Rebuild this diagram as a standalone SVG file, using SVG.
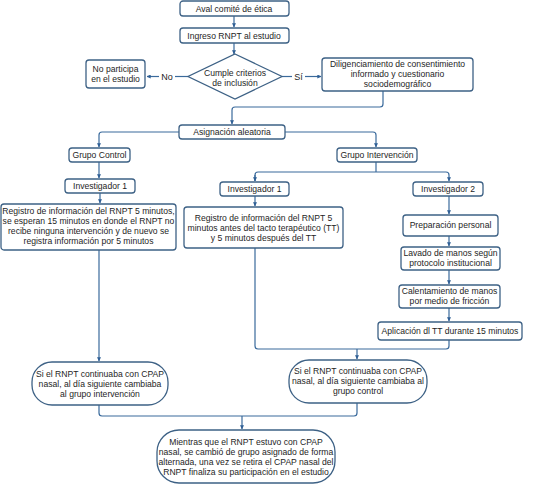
<svg xmlns="http://www.w3.org/2000/svg" width="547" height="484" viewBox="0 0 547 484">
<defs>
<style>
.box{fill:#fff;stroke:#3d6185;stroke-width:1.3}
.ln{fill:none;stroke:#3a6a9c;stroke-width:1.2}
text{font-family:"Liberation Sans",Arial,sans-serif;font-size:8.6px;fill:#1e1e1e;text-anchor:middle}
</style>
<marker id="ah" viewBox="0 0 6 6" refX="5.5" refY="3" markerWidth="4" markerHeight="4" orient="auto" markerUnits="userSpaceOnUse">
<path d="M0,0 L6,3 L0,6 z" fill="#2f5f95"/>
</marker>
</defs>
<rect width="547" height="484" fill="#fff"/>
<g id="connectors">
<path class="ln" d="M234,16 V27" marker-end="url(#ah)"/>
<path class="ln" d="M234,43 V54" marker-end="url(#ah)"/>
<path class="ln" d="M188,76.5 H175"/>
<path class="ln" d="M159,76.5 H147" marker-end="url(#ah)"/>
<path class="ln" d="M282,76.5 H292"/>
<path class="ln" d="M305,76.5 H321" marker-end="url(#ah)"/>
<path class="ln" d="M383,91 V104 Q383,107 380,107 H235 Q232,107 232,110 V124" marker-end="url(#ah)"/>
<path class="ln" d="M179,132 H102 Q99,132 99,135 V147" marker-end="url(#ah)"/>
<path class="ln" d="M285,132 H373 Q376,132 376,135 V147" marker-end="url(#ah)"/>
<path class="ln" d="M99,162 V178" marker-end="url(#ah)"/>
<path class="ln" d="M100,193 V203" marker-end="url(#ah)"/>
<path class="ln" d="M376,162 V172"/>
<path class="ln" d="M255,181 V175 Q255,172 258,172 H446 Q449,172 449,175 V181" marker-end="url(#ah)"/>
<path class="ln" d="M255,175 V181" marker-end="url(#ah)"/>
<path class="ln" d="M255,196 V206" marker-end="url(#ah)"/>
<path class="ln" d="M449,196 V214" marker-end="url(#ah)"/>
<path class="ln" d="M449,236 V246" marker-end="url(#ah)"/>
<path class="ln" d="M449,270 V284" marker-end="url(#ah)"/>
<path class="ln" d="M449,308 V321" marker-end="url(#ah)"/>
<path class="ln" d="M255,248 V346 Q255,349 258,349 H446 Q449,349 449,346 V340"/>
<path class="ln" d="M357,349 V359" marker-end="url(#ah)"/>
<path class="ln" d="M99,250 V361" marker-end="url(#ah)"/>
<path class="ln" d="M99,405 V413 Q99,416 102,416 H354 Q357,416 357,413 V403"/>
<path class="ln" d="M242,416 V429" marker-end="url(#ah)"/>
</g>
<g id="aval"><rect class="box" x="180" y="1" width="109" height="15" rx="3"/><text x="234" y="11.5">Aval comité de ética</text></g>
<g id="ingreso"><rect class="box" x="180" y="28" width="109" height="15" rx="3"/><text x="234" y="38.5">Ingreso RNPT al estudio</text></g>
<g id="criterios"><polygon class="box" points="235,54 282,76.5 235,99 188,76.5"/><text x="235" y="76">Cumple criterios</text><text x="235" y="86">de inclusión</text></g>
<g id="no-participa"><rect class="box" x="86" y="60" width="59" height="28" rx="3"/><text x="115.5" y="72">No participa</text><text x="115.5" y="82">en el estudio</text></g>
<text x="167" y="79.5" style="font-size:9px">No</text>
<text x="298.5" y="79.5" style="font-size:9px">Sí</text>
<g id="diligenciamiento"><rect class="box" x="322" y="58" width="151" height="33" rx="3"/><text x="397.5" y="67">Diligenciamiento de consentimiento</text><text x="397.5" y="77">informado y cuestionario</text><text x="397.5" y="87">sociodemográfico</text></g>
<g id="asignacion"><rect class="box" x="179" y="125" width="106" height="14" rx="3"/><text x="232" y="135">Asignación aleatoria</text></g>
<g id="grupo-control"><rect class="box" x="69" y="148" width="61" height="14" rx="3"/><text x="99.5" y="158">Grupo Control</text></g>
<g id="grupo-intervencion"><rect class="box" x="337" y="148" width="80" height="14" rx="3"/><text x="377" y="158">Grupo Intervención</text></g>
<g id="inv1-control"><rect class="box" x="65" y="179" width="70" height="14" rx="3"/><text x="100" y="189">Investigador 1</text></g>
<g id="registro-control"><rect class="box" x="1" y="204" width="175" height="46" rx="3"/><text x="88.5" y="214">Registro de información del RNPT 5 minutos,</text><text x="88.5" y="224">se esperan 15 minutos en donde el RNPT no</text><text x="88.5" y="234">recibe ninguna intervención y de nuevo se</text><text x="88.5" y="244">registra información por 5 minutos</text></g>
<g id="inv1-intervencion"><rect class="box" x="220" y="182" width="69" height="14" rx="3"/><text x="254.5" y="192">Investigador 1</text></g>
<g id="inv2"><rect class="box" x="413" y="182" width="70" height="14" rx="3"/><text x="448" y="192">Investigador 2</text></g>
<g id="registro-intervencion"><rect class="box" x="184" y="207" width="159" height="41" rx="3"/><text x="263.5" y="221">Registro de información del RNPT 5</text><text x="263.5" y="231">minutos antes del tacto terapéutico (TT)</text><text x="263.5" y="241">y 5 minutos después del TT</text></g>
<g id="preparacion"><rect class="box" x="403" y="215" width="95" height="21" rx="3"/><text x="450.5" y="228">Preparación personal</text></g>
<g id="lavado"><rect class="box" x="401" y="247" width="99" height="23" rx="3"/><text x="450.5" y="256">Lavado de manos según</text><text x="450.5" y="266">protocolo institucional</text></g>
<g id="calentamiento"><rect class="box" x="399" y="285" width="101" height="23" rx="3"/><text x="449.5" y="294">Calentamiento de manos</text><text x="449.5" y="304">por medio de fricción</text></g>
<g id="aplicacion"><rect class="box" x="378" y="322" width="144" height="18" rx="3"/><text x="450" y="334">Aplicación dl TT durante 15 minutos</text></g>
<g id="cambio-intervencion"><rect class="box" x="32" y="362" width="136" height="43" rx="20"/><text x="100" y="377">Si el RNPT continuaba con CPAP</text><text x="100" y="387">nasal, al día siguiente cambiaba</text><text x="100" y="397">al grupo intervención</text></g>
<g id="cambio-control"><rect class="box" x="289" y="360" width="138" height="43" rx="20"/><text x="358" y="374">Si el RNPT continuaba con CPAP</text><text x="358" y="384">nasal, al día siguiente cambiaba al</text><text x="358" y="394">grupo control</text></g>
<g id="final"><rect class="box" x="157" y="430" width="178" height="53" rx="22"/><text x="246" y="445">Mientras que el RNPT estuvo con CPAP</text><text x="246" y="455">nasal, se cambió de grupo asignado de forma</text><text x="246" y="465">alternada, una vez se retira el CPAP nasal del</text><text x="246" y="475">RNPT finaliza su participación en el estudio</text></g>
</svg>
